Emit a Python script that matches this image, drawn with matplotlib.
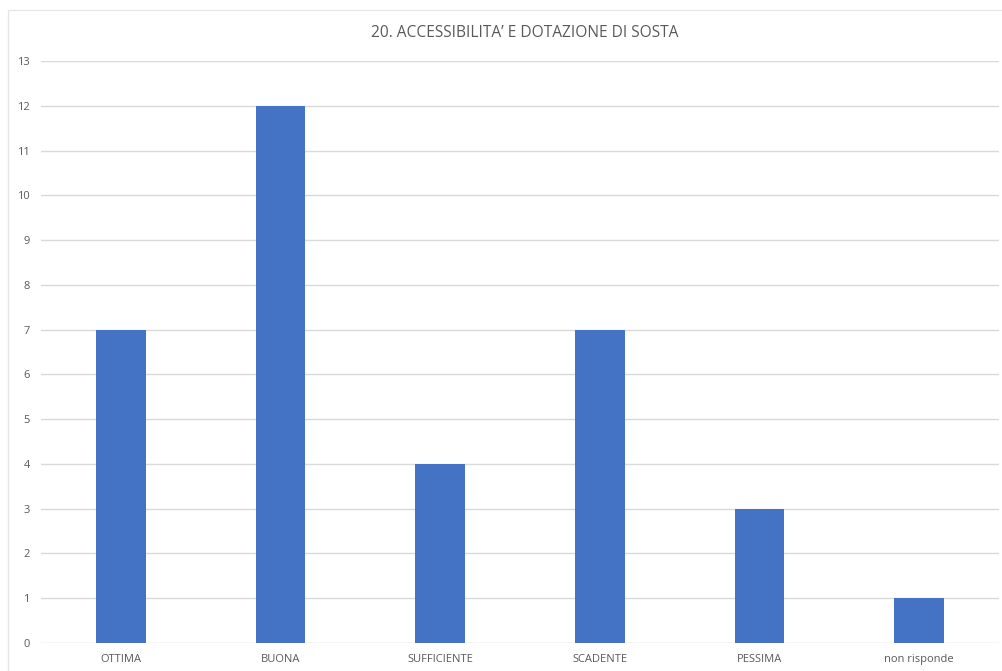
import matplotlib.pyplot as plt
from matplotlib.lines import Line2D

categories = ["OTTIMA", "BUONA", "SUFFICIENTE", "SCADENTE", "PESSIMA", "non risponde"]
counts = [7, 12, 4, 7, 3, 1]
yticks = list(range(0, 14))
title = "20. ACCESSIBILITA\u2019 E DOTAZIONE DI SOSTA"

plt.rcParams['font.family'] = ['Open Sans', 'DejaVu Sans']

fig = plt.figure(figsize=(10.03, 6.71), dpi=100)
ax = fig.add_axes([41 / 1003, 1 - 643 / 671, 958 / 1003, (643 - 61) / 671])

# faint chart border (top and left only visible in the source)
fig.lines.append(Line2D([8 / 1003, 8 / 1003, 1.0], [0.0, 1 - 10 / 671, 1 - 10 / 671],
                        transform=fig.transFigure, color="#e6e6e6", linewidth=1))

x = range(len(categories))
ax.bar(x, counts, width=0.3125, color="#4472C4", zorder=3)

ax.set_xlim(-0.5, len(categories) - 0.5)
ax.set_ylim(0, 13)
ax.set_yticks(yticks)
ax.set_xticks(list(x))
ax.set_xticklabels(categories)
ax.grid(axis="y", color="#d9d9d9", linewidth=1, zorder=0)
for s in ax.spines.values():
    s.set_visible(False)
ax.tick_params(axis="both", length=0, colors="#595959", labelsize=8)
ax.tick_params(axis="y", pad=8)
ax.tick_params(axis="x", pad=8)

fig.text(525 / 1003, 1 - 33 / 671, title, ha="center", va="center",
         fontsize=11.2, color="#595959")

fig.savefig("out.png", dpi=100)
